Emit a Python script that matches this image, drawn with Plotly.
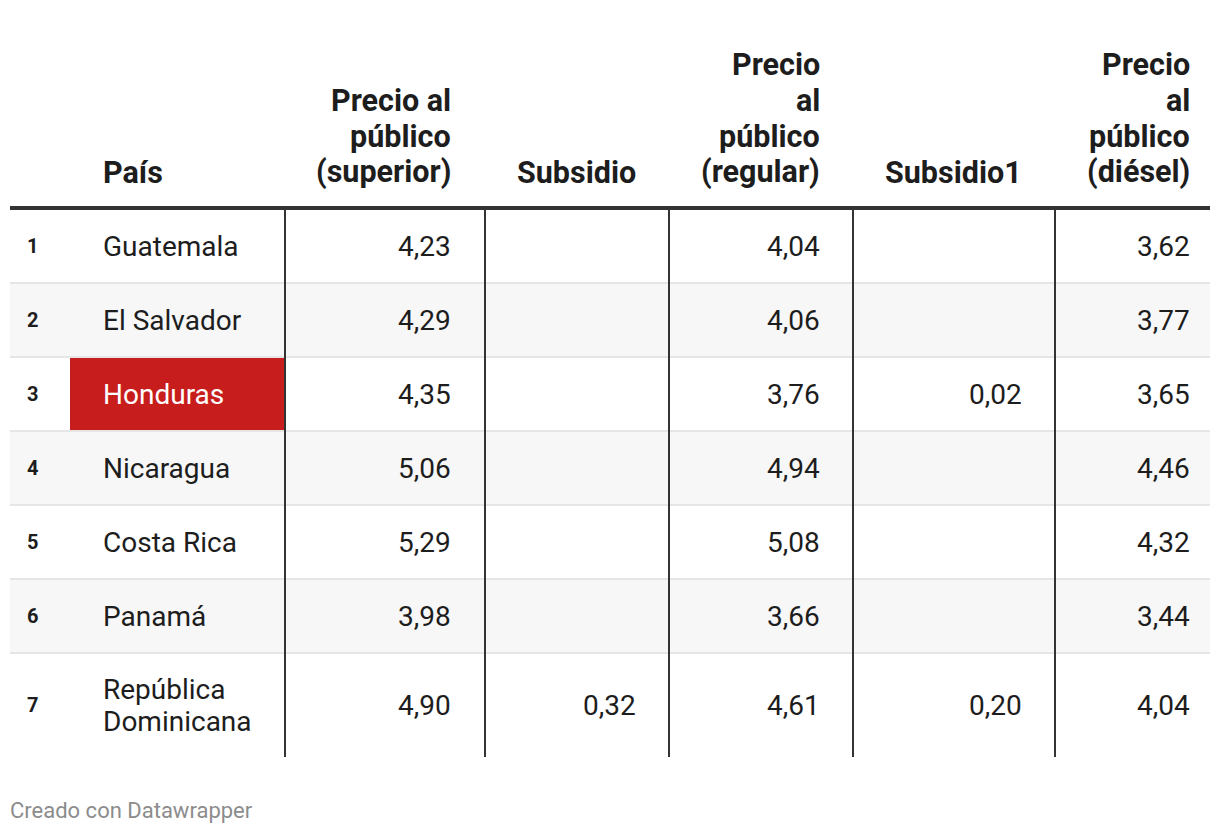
import plotly.graph_objects as go

# ---- data ----
ranks = [1, 2, 3, 4, 5, 6, 7]
paises = ["Guatemala", "El Salvador", "Honduras", "Nicaragua", "Costa Rica", "Panamá",
          "República\nDominicana"]
precio_superior = [4.23, 4.29, 4.35, 5.06, 5.29, 3.98, 4.90]
subsidio = [None, None, None, None, None, None, 0.32]
precio_regular = [4.04, 4.06, 3.76, 4.94, 5.08, 3.66, 4.61]
subsidio1 = [None, None, 0.02, None, None, None, 0.20]
precio_diesel = [3.62, 3.77, 3.65, 4.46, 4.32, 3.44, 4.04]
headers = ["País", "Precio al\npúblico\n(superior)", "Subsidio",
           "Precio\nal\npúblico\n(regular)", "Subsidio1", "Precio\nal\npúblico\n(diésel)"]
highlight = "Honduras"
footer = "Creado con Datawrapper"

# ---- layout constants (pixels) ----
W, H = 1220, 834
OFF = 8  # page body margin
PAD = 2  # annotation inner padding compensation
FONT = "Roboto"
TXT = "#1d1d1d"
left, right = 10, 1210
rule_y = 208
row_tops = [209, 283, 357, 431, 505, 579, 653]
row_bots = [283, 357, 431, 505, 579, 653, 757]
col_edges = [285, 485, 669, 853, 1055]
name_x = 103
rank_x = 27
num_right = [451, 636, 820, 1022, 1190]
body_size = 28
head_size = 30.5
line_h = 36

fig = go.Figure()
shapes = []
ann = []

def fmt(v):
    return "" if v is None else f"{v:.2f}".replace(".", ",")

# row backgrounds
for i, (t, b) in enumerate(zip(row_tops, row_bots)):
    if i % 2 == 1:
        shapes.append(dict(type="rect", x0=left, x1=right, y0=t, y1=b,
                           fillcolor="#f7f7f7", line_width=0, layer="below"))
# highlight cell
for i, p in enumerate(paises):
    if p == highlight:
        shapes.append(dict(type="rect", x0=70, x1=col_edges[0], y0=row_tops[i], y1=row_bots[i],
                           fillcolor="#c71e1d", line_width=0, layer="below"))
# row separators
for y in row_tops[1:]:
    shapes.append(dict(type="line", x0=left, x1=right, y0=y, y1=y,
                       line=dict(color="#e6e6e6", width=2), layer="below"))
# vertical lines
for x in col_edges:
    shapes.append(dict(type="line", x0=x, x1=x, y0=rule_y, y1=row_bots[-1],
                       line=dict(color="#333333", width=2)))
# header rule
shapes.append(dict(type="line", x0=left, x1=right, y0=rule_y, y1=rule_y,
                   line=dict(color="#333333", width=4)))

def text(x, y, s, size, color=TXT, bold=False, anchor="left"):
    xx = x - PAD if anchor == "left" else x + PAD
    ann.append(dict(x=xx, y=y, xref="x", yref="y", text=(f"<b>{s}</b>" if bold else s),
                    showarrow=False, xanchor=anchor, yanchor="middle",
                    font=dict(family=FONT, size=size, color=color)))

# headers (bottom aligned)
head_last = 172
head_x = [name_x] + num_right
for j, h in enumerate(headers):
    lines = h.split("\n")
    for k, ln in enumerate(lines):
        y = head_last - (len(lines) - 1 - k) * line_h
        text(head_x[j], y, ln, head_size, bold=True, anchor="left" if j == 0 else "right")

# body
cols = [precio_superior, subsidio, precio_regular, subsidio1, precio_diesel]
for i in range(len(ranks)):
    cy = (row_tops[i] + row_bots[i]) / 2
    text(rank_x, cy, str(ranks[i]), 20, bold=True)
    lines = paises[i].split("\n")
    col = "white" if paises[i] == highlight else TXT
    for k, ln in enumerate(lines):
        y = cy + (k - (len(lines) - 1) / 2) * 32
        text(name_x, y, ln, body_size, color=col)
    for j, c in enumerate(cols):
        if c[i] is not None:
            text(num_right[j], cy, fmt(c[i]), body_size, anchor="right")

text(10, 810, footer, 22, color="#8c8c8c")

fig.update_layout(
    width=W, height=H, margin=dict(l=0, r=0, t=0, b=0),
    paper_bgcolor="white", plot_bgcolor="white",
    xaxis=dict(range=[OFF, W + OFF], visible=False, fixedrange=True),
    yaxis=dict(range=[H + OFF, OFF], visible=False, fixedrange=True),
    shapes=shapes, annotations=ann, showlegend=False,
)
fig.write_html("out.html")
